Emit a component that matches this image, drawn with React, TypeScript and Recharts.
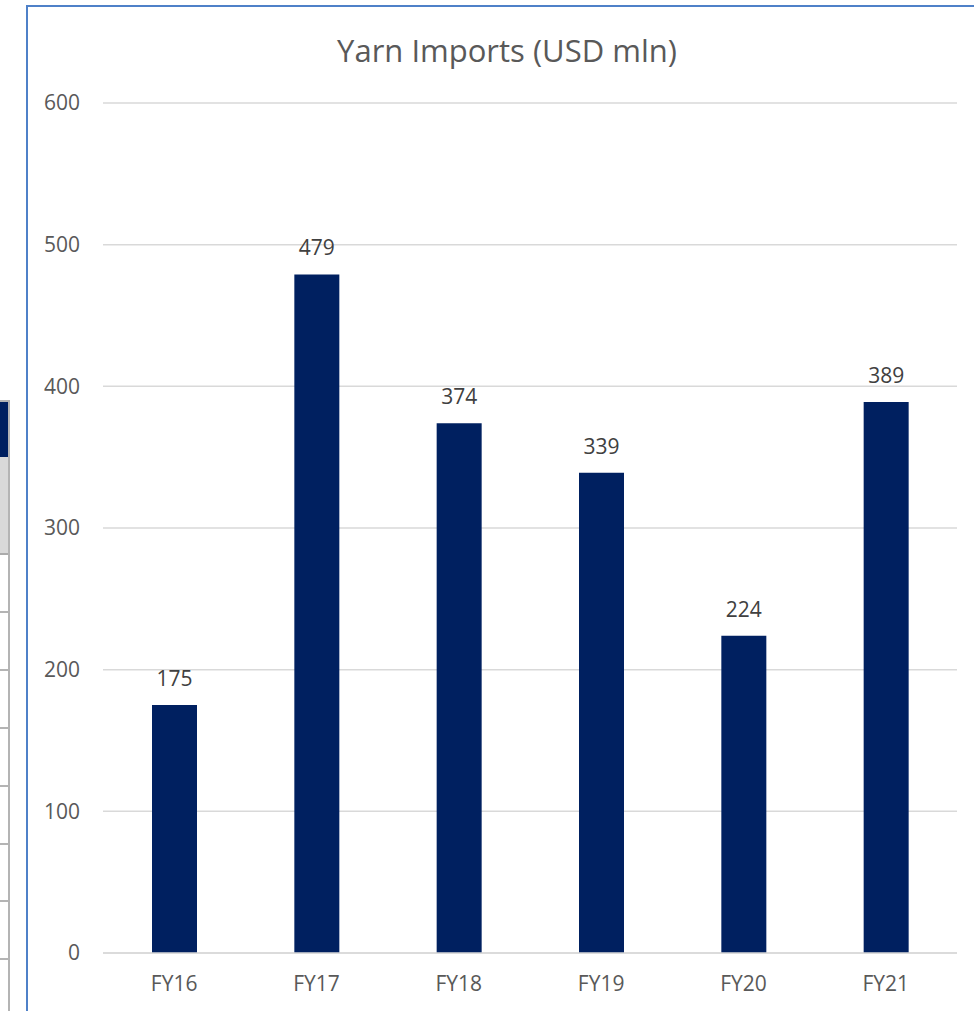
import React from "react";
import { BarChart, Bar, XAxis, YAxis, CartesianGrid, LabelList } from "recharts";

// Yarn imports by fiscal year, USD mln
const years = ["FY16", "FY17", "FY18", "FY19", "FY20", "FY21"];
const imports = [175, 479, 374, 339, 224, 389];
const yTicks = [0, 100, 200, 300, 400, 500, 600];

const data = years.map((year, i) => ({ year, value: imports[i] }));

const FONT = "'Open Sans', 'Noto Sans', sans-serif";
const NAVY = "#002060";
const GREY_TEXT = "#595959";

// Edge of the neighbouring worksheet table
const tableRowLines = [611, 669, 727, 785, 843, 900, 958];

function TableEdge() {
  return (
    <div style={{ position: "absolute", left: 0, top: 0, width: 12, height: 1011 }}>
      <div style={{ position: "absolute", left: 0, top: 400, width: 8, height: 57, background: NAVY }} />
      <div style={{ position: "absolute", left: 0, top: 457, width: 8, height: 96, background: "#D9D9D9" }} />
      <div style={{ position: "absolute", left: 0, top: 553, width: 9, height: 2, background: "#ABABAB" }} />
      <div style={{ position: "absolute", left: 8, top: 400, width: 2, height: 611, background: "#B4B4B4" }} />
      <div style={{ position: "absolute", left: 0, top: 400, width: 10, height: 2, background: "#B4B4B4" }} />
      {tableRowLines.map((y) => (
        <div key={y} style={{ position: "absolute", left: 0, top: y, width: 9, height: 2, background: "#B4B4B4" }} />
      ))}
    </div>
  );
}

export default function App() {
  return (
    <div style={{ position: "absolute", left: 0, top: 0, width: 974, height: 1011, background: "#fff", overflow: "hidden" }}>
      <TableEdge />
      {/* chart frame */}
      <div style={{ position: "absolute", left: 26, top: 5, width: 960, height: 1020, border: "2px solid #4F81C8", boxSizing: "border-box" }} />
      <div
        style={{
          position: "absolute",
          left: 207,
          top: 26,
          width: 600,
          textAlign: "center",
          fontFamily: FONT,
          fontSize: 31,
          color: GREY_TEXT,
          lineHeight: "48px",
        }}
      >
        Yarn Imports (USD mln)
      </div>
      <div style={{ position: "absolute", left: 0, top: 0 }}>
        <BarChart
          width={974}
          height={1011}
          data={data}
          margin={{ top: 103, right: 17, bottom: 0, left: 0 }}
          barCategoryGap={0}
        >
          <CartesianGrid vertical={false} stroke="#D9D9D9" strokeWidth={1.5} />
          <XAxis
            dataKey="year"
            height={58}
            axisLine={{ stroke: "#D9D9D9", strokeWidth: 1.5 }}
            tickLine={false}
            tickMargin={17}
            tick={{ fill: GREY_TEXT, fontSize: 21, fontFamily: FONT }}
          />
          <YAxis
            width={103}
            domain={[0, 600]}
            ticks={yTicks}
            axisLine={false}
            tickLine={false}
            tickMargin={17}
            tick={{ fill: GREY_TEXT, fontSize: 21, fontFamily: FONT }}
          />
          <Bar dataKey="value" fill={NAVY} barSize={45} isAnimationActive={false}>
            <LabelList
              dataKey="value"
              position="top"
              offset={19}
              fill="#404040"
              fontSize={21}
              fontFamily={FONT}
            />
          </Bar>
        </BarChart>
      </div>
    </div>
  );
}
